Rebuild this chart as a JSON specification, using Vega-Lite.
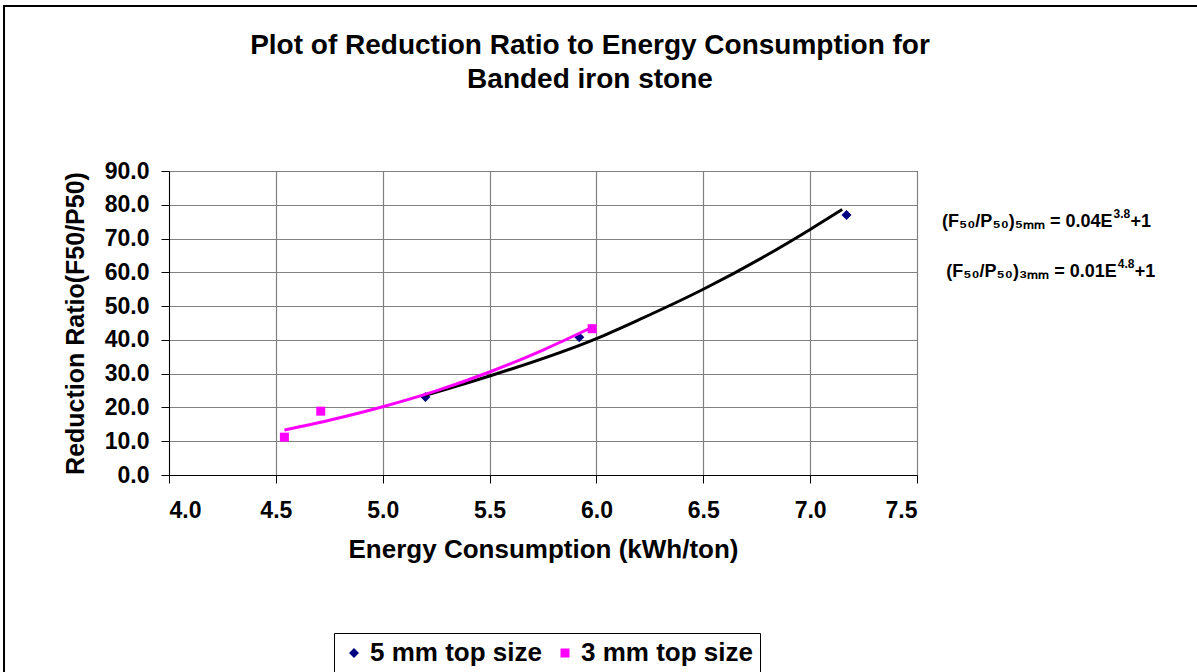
{
  "$schema": "https://vega.github.io/schema/vega-lite/v6.json",
  "width": 748,
  "height": 304,
  "autosize": "none",
  "padding": {"left": 169, "top": 171, "right": 280, "bottom": 197},
  "background": "white",
  "title": {
    "text": ["Plot of Reduction Ratio to Energy Consumption for", "Banded iron stone"],
    "font": "Liberation Sans",
    "fontSize": 28,
    "fontWeight": "bold",
    "lineHeight": 34,
    "color": "black",
    "anchor": "middle",
    "frame": "group",
    "dx": 47,
    "offset": -89
  },
  "config": {
    "view": {"stroke": "black", "strokeWidth": 1},
    "font": "Liberation Sans",
    "axis": {
      "labelFont": "Liberation Sans",
      "labelFontWeight": "bold",
      "labelFontSize": 23,
      "labelColor": "black",
      "labelOverlap": false,
      "titleFont": "Liberation Sans",
      "titleFontWeight": "bold",
      "titleColor": "black",
      "domainColor": "black",
      "tickColor": "black",
      "tickSize": 8,
      "gridColor": "#808080",
      "gridWidth": 1.2,
      "gridOpacity": 1
    }
  },
  "datasets": {
    "pts": [
      {"E": 5.20, "R": 23.1, "series": "5 mm top size"},
      {"E": 5.92, "R": 40.8, "series": "5 mm top size"},
      {"E": 7.17, "R": 77.0, "series": "5 mm top size"},
      {"E": 4.54, "R": 11.2, "series": "3 mm top size"},
      {"E": 4.71, "R": 18.9, "series": "3 mm top size"},
      {"E": 5.98, "R": 43.3, "series": "3 mm top size"}
    ],
    "fits": [
      {"E": 5.20, "R": 23.6, "fit": "5 mm"},
      {"E": 5.50, "R": 29.3, "fit": "5 mm"},
      {"E": 6.00, "R": 40.4, "fit": "5 mm"},
      {"E": 6.20, "R": 46.0, "fit": "5 mm"},
      {"E": 6.50, "R": 55.0, "fit": "5 mm"},
      {"E": 6.80, "R": 65.2, "fit": "5 mm"},
      {"E": 7.00, "R": 72.7, "fit": "5 mm"},
      {"E": 7.15, "R": 78.6, "fit": "5 mm"},
      {"E": 4.54, "R": 13.3, "fit": "3 mm"},
      {"E": 4.75, "R": 16.2, "fit": "3 mm"},
      {"E": 5.00, "R": 20.2, "fit": "3 mm"},
      {"E": 5.25, "R": 24.9, "fit": "3 mm"},
      {"E": 5.50, "R": 30.5, "fit": "3 mm"},
      {"E": 5.75, "R": 37.0, "fit": "3 mm"},
      {"E": 5.975, "R": 43.6, "fit": "3 mm"}
    ],
    "eqs": [
      {"E": 8.415, "R": 74.9, "main": "(F₅₀/P₅₀)₅ₘₘ = 0.04E", "sup": "3.8", "tail": "+1"},
      {"E": 8.435, "R": 60.1, "main": "(F₅₀/P₅₀)₃ₘₘ = 0.01E", "sup": "4.8", "tail": "+1"}
    ]
  },
  "layer": [
    {
      "data": {"name": "pts"},
      "mark": {"type": "point", "filled": true, "opacity": 1},
      "encoding": {
        "x": {
          "field": "E", "type": "quantitative",
          "scale": {"domain": [4, 7.5], "nice": false, "zero": false},
          "axis": {
            "title": "Energy Consumption (kWh/ton)",
            "titleFontSize": 26,
            "values": [4, 4.5, 5, 5.5, 6, 6.5, 7, 7.5],
            "format": ".1f",
            "labelPadding": 16,
            "titlePadding": 14,
            "grid": true
          }
        },
        "y": {
          "field": "R", "type": "quantitative",
          "scale": {"domain": [0, 90], "nice": false},
          "axis": {
            "title": "Reduction Ratio(F50/P50)",
            "titleFontSize": 25,
            "values": [0, 10, 20, 30, 40, 50, 60, 70, 80, 90],
            "tickCount": 10,
            "format": ".1f",
            "labelPadding": 12,
            "titlePadding": 16,
            "grid": true
          }
        },
        "color": {
          "field": "series", "type": "nominal",
          "scale": {"domain": ["5 mm top size", "3 mm top size"], "range": ["#000080", "#FF00FF"]},
          "legend": {
            "title": null,
            "orient": "none",
            "legendX": 165,
            "legendY": 462,
            "direction": "horizontal",
            "strokeColor": "black",
            "padding": 7,
            "labelFont": "Liberation Sans",
            "labelFontWeight": "bold",
            "labelFontSize": 26,
            "labelLimit": 400,
            "labelColor": "black",
            "symbolSize": 60,
            "labelOffset": 3,
            "columnPadding": 10
          }
        },
        "shape": {
          "field": "series", "type": "nominal",
          "scale": {"domain": ["5 mm top size", "3 mm top size"], "range": ["diamond", "square"]},
          "legend": null
        },
        "size": {
          "field": "series", "type": "nominal",
          "scale": {"domain": ["5 mm top size", "3 mm top size"], "range": [100, 81]},
          "legend": null
        }
      }
    },
    {
      "data": {"name": "fits"},
      "mark": {"type": "line", "strokeWidth": 3, "interpolate": "monotone"},
      "encoding": {
        "x": {"field": "E", "type": "quantitative"},
        "y": {"field": "R", "type": "quantitative"},
        "stroke": {
          "field": "fit", "type": "nominal",
          "scale": {"domain": ["5 mm", "3 mm"], "range": ["#000000", "#FF00FF"]},
          "legend": null
        }
      }
    },
    {
      "data": {"name": "eqs"},
      "mark": {"type": "text", "font": "Liberation Sans", "fontWeight": "bold", "fontSize": 18, "color": "black", "align": "right", "baseline": "middle", "clip": false},
      "encoding": {
        "x": {"field": "E", "type": "quantitative"},
        "y": {"field": "R", "type": "quantitative"},
        "text": {"field": "main"}
      }
    },
    {
      "data": {"name": "eqs"},
      "mark": {"type": "text", "font": "Liberation Sans", "fontWeight": "bold", "fontSize": 12, "color": "black", "align": "left", "baseline": "middle", "dx": 1, "dy": -8, "clip": false},
      "encoding": {
        "x": {"field": "E", "type": "quantitative"},
        "y": {"field": "R", "type": "quantitative"},
        "text": {"field": "sup"}
      }
    },
    {
      "data": {"name": "eqs"},
      "mark": {"type": "text", "font": "Liberation Sans", "fontWeight": "bold", "fontSize": 18, "color": "black", "align": "left", "baseline": "middle", "dx": 18, "clip": false},
      "encoding": {
        "x": {"field": "E", "type": "quantitative"},
        "y": {"field": "R", "type": "quantitative"},
        "text": {"field": "tail"}
      }
    },
    {
      "data": {"values": [{}]},
      "mark": {"type": "rect", "filled": false, "stroke": "black", "strokeWidth": 2, "clip": false},
      "encoding": {
        "x": {"datum": 3.228, "type": "quantitative"},
        "x2": {"datum": 9.3},
        "y": {"datum": 138.85, "type": "quantitative"},
        "y2": {"datum": -80}
      }
    }
  ]
}
